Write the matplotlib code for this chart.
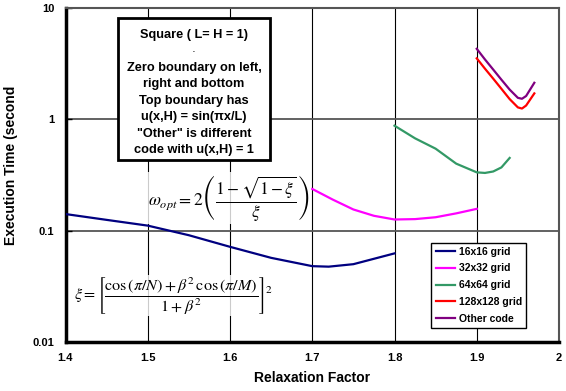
import matplotlib
matplotlib.use('Agg')
import matplotlib.pyplot as plt
import numpy as np
from matplotlib.patches import Rectangle
from matplotlib.ticker import NullLocator

plt.rcParams['font.family'] = ['Liberation Sans', 'DejaVu Sans']
plt.rcParams['mathtext.fontset'] = 'stix'

# datos
x16 = [1.40, 1.45, 1.50, 1.55, 1.60, 1.65, 1.70, 1.72, 1.75, 1.80]
t16 = [0.141, 0.125, 0.111, 0.091, 0.0716, 0.057, 0.048, 0.0475, 0.050, 0.0625]

x32 = [1.70, 1.725, 1.75, 1.775, 1.80, 1.825, 1.85, 1.875, 1.90]
t32 = [0.237, 0.19, 0.155, 0.136, 0.126, 0.127, 0.132, 0.143, 0.157]

x64 = [1.80, 1.825, 1.85, 1.875, 1.90, 1.91, 1.92, 1.93, 1.94]
t64 = [0.877, 0.675, 0.545, 0.40, 0.334, 0.33, 0.34, 0.37, 0.45]

x128 = [1.90, 1.91, 1.92, 1.93, 1.94, 1.95, 1.955, 1.96, 1.97]
t128 = [3.53, 2.85, 2.32, 1.88, 1.52, 1.28, 1.25, 1.33, 1.71]

xoth = [1.90, 1.91, 1.92, 1.93, 1.94, 1.95, 1.955, 1.96, 1.97]
toth = [4.3, 3.45, 2.80, 2.27, 1.85, 1.56, 1.53, 1.62, 2.13]

series = [
    (x16, t16, '16x16 grid', '#000080'),
    (x32, t32, '32x32 grid', '#FF00FF'),
    (x64, t64, '64x64 grid', '#339966'),
    (x128, t128, '128x128 grid', '#FF0000'),
    (xoth, toth, 'Other code', '#800080'),
]

xticks = [1.4, 1.5, 1.6, 1.7, 1.8, 1.9, 2.0]
xtick_labels = ['1.4', '1.5', '1.6', '1.7', '1.8', '1.9', '2']
yticks = [0.01, 0.1, 1, 10]
ytick_labels = ['0.01', '0.1', '1', '10']

info_lines = ['Square ( L= H = 1)', '-', 'Zero boundary on left,', 'right and bottom',
              'Top boundary has', u'u(x,H) = sin(\u03c0x/L)', '"Other" is different',
              'code with u(x,H) = 1']

W, H = 566, 391
fig = plt.figure(figsize=(W / 100, H / 100), dpi=100)
ax = fig.add_axes([65.5 / W, 1 - 342 / H, (559 - 65.5) / W, (342 - 8) / H])

for xs, ts, lab, col in series:
    ax.plot(xs, ts, color=col, lw=1.6, label=lab, zorder=3)

ax.set_yscale('log')
ax.set_xlim(1.4, 2.0)
ax.set_ylim(0.01, 10)
ax.set_xticks(xticks)
ax.set_xticklabels(xtick_labels, fontsize=8, fontweight='bold')
ax.set_yticks(yticks)
ax.set_yticklabels(ytick_labels, fontsize=8, fontweight='bold')
ax.yaxis.set_minor_locator(NullLocator())
ax.tick_params(axis='x', length=0, pad=8)
ax.tick_params(axis='y', length=4, direction='in', width=1, pad=8)

ax.grid(axis='x', color='black', lw=0.8, zorder=1)
ax.grid(axis='y', which='major', color='#555555', lw=1.3, zorder=1)
ax.set_axisbelow(True)

for s in ['left', 'bottom']:
    ax.spines[s].set_linewidth(2.5)
    ax.spines[s].set_color('black')
for s in ['top', 'right']:
    ax.spines[s].set_linewidth(1.5)
    ax.spines[s].set_color('#555555')

ax.set_xlabel('Relaxation Factor', fontsize=10, fontweight='bold', labelpad=6)
ax.set_ylabel('Execution Time (seconds)', fontsize=10, fontweight='bold')
ax.yaxis.set_label_coords(18 / W, 1 - 159 / H, transform=fig.transFigure)
# el titulo del eje Y sale cortado arriba
fig.patches.append(Rectangle((0, 1 - 87 / H), 34 / W, 87 / H, transform=fig.transFigure,
                             facecolor='white', edgecolor='none', zorder=20))

# cuadro de texto
box = Rectangle((118 / W, 1 - 160 / H), (270 - 118) / W, (160 - 18) / H,
                transform=fig.transFigure, facecolor='white', edgecolor='black',
                lw=2, zorder=5)
fig.patches.append(box)
line_y = [35, 52, 68, 84, 101, 117, 134, 150]
for txt, yy in zip(info_lines, line_y):
    fs = 4 if txt == '-' else 9.2
    fig.text(194 / W, 1 - yy / H, txt, ha='center', va='center', fontsize=fs,
             fontweight='bold', zorder=6)

# ecuaciones
fig.text(229 / W, 1 - 198 / H,
         r'$\omega_{opt} = 2\left(\dfrac{1-\sqrt{1-\xi}}{\xi}\right)$',
         ha='center', va='center', fontsize=12.5,
         bbox=dict(facecolor='white', edgecolor='none', alpha=0.8, pad=1))
fig.text(174 / W, 1 - 295 / H,
         r'$\xi = \left[\dfrac{\cos\left(\pi/N\right)+\beta^2\,\cos\left(\pi/M\right)}{1+\beta^2}\right]^2$',
         ha='center', va='center', fontsize=11.6,
         bbox=dict(facecolor='white', edgecolor='none', alpha=0.8, pad=0))

leg = ax.legend(loc='lower right', bbox_to_anchor=(0.933, 0.042), borderaxespad=0,
                fancybox=False, edgecolor='black', framealpha=1,
                prop={'size': 7.5, 'weight': 'bold'}, handlelength=1.9,
                handletextpad=0.3, labelspacing=0.65, borderpad=0.4)
leg.get_frame().set_linewidth(1.0)
leg.set_zorder(10)

fig.savefig('out.png', dpi=100)
